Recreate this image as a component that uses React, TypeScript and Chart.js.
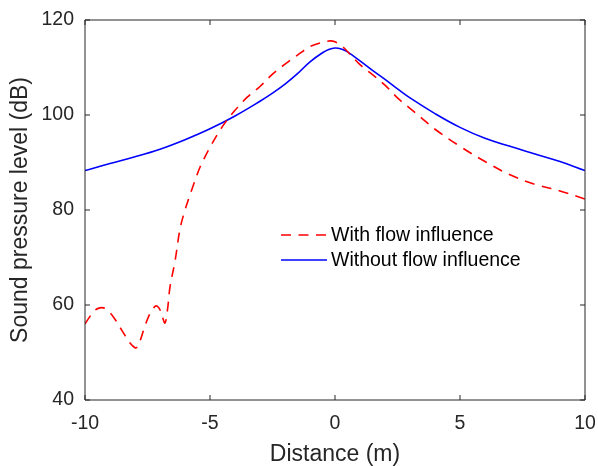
import React, { useEffect, useRef } from "react";
import { Chart, registerables } from "chart.js";

Chart.register(...registerables);

// Distance (m) and sound pressure level (dB)
const distanceWith: number[] = [
  -10, -9.8, -9.6, -9.4, -9.2, -9.0, -8.8, -8.6, -8.4, -8.2, -8.0, -7.9, -7.8, -7.6, -7.4, -7.2, -7.1, -7.0,
  -6.9, -6.8, -6.7, -6.6, -6.4, -6.2, -6.0, -5.8, -5.6, -5.4, -5.0, -4.5, -4.0, -3.5, -3.0, -2.5, -2.0, -1.5,
  -1.0, -0.5, -0.2, 0, 0.3, 0.6, 1.0, 1.5, 2.0, 2.5, 3.0, 3.5, 4, 5, 6, 7, 8, 9, 10,
];
const splWith: number[] = [
  56.0, 57.6, 58.9, 59.4, 59.3, 58.4, 57.0, 55.3, 53.6, 52.0, 51.0, 51.2, 52.4, 55.6, 58.2, 59.7, 59.7, 59.0,
  57.4, 56.2, 59.0, 63.8, 69.2, 76.0, 80.0, 83.2, 86.2, 89.0, 93.2, 97.6, 101.0, 103.8, 106.0, 108.6, 110.7, 112.6,
  114.4, 115.3, 115.6, 115.4, 114.4, 112.8, 110.6, 108.5, 106.3, 103.6, 101.4, 99.2, 97.0, 93.4, 90.2, 87.4, 85.4, 84.0, 82.3,
];

const distanceWithout: number[] = [
  -10, -9, -8, -7, -6, -5, -4, -3, -2.5, -2, -1.5, -1, -0.5, -0.25, 0, 0.25, 0.5, 1, 1.5, 2, 2.5, 3, 4, 5, 6, 7, 8, 9, 10,
];
const splWithout: number[] = [
  88.3, 89.8, 91.2, 92.8, 94.8, 97.1, 99.8, 102.9, 104.6, 106.5, 108.7, 111.2, 113.1, 113.8, 114.1, 113.9, 113.3,
  111.4, 109.4, 107.5, 105.5, 103.6, 100.3, 97.4, 95.1, 93.4, 91.8, 90.2, 88.3,
];

const seriesLabels: string[] = ["With flow influence", "Without flow influence"];
const xTicks: number[] = [-10, -5, 0, 5, 10];
const yTicks: number[] = [40, 60, 80, 100, 120];

const FONT = "'Liberation Sans', Arial, Helvetica, sans-serif";
const AXIS_COLOR = "#262626";
const DASH = [10, 7.5];

const frameAndLegend = {
  id: "frameAndLegend",
  afterDatasetsDraw(chart: any) {
    const { ctx, chartArea } = chart;
    const { left, right, top, bottom } = chartArea;
    const xs = chart.scales.x;
    const ys = chart.scales.y;
    ctx.save();
    ctx.strokeStyle = AXIS_COLOR;
    ctx.lineWidth = 1;
    ctx.setLineDash([]);
    ctx.beginPath();
    ctx.rect(left, top, right - left, bottom - top);
    ctx.stroke();
    const tl = 5;
    ctx.beginPath();
    xs.ticks.forEach((t: any) => {
      const px = xs.getPixelForValue(t.value);
      ctx.moveTo(px, bottom);
      ctx.lineTo(px, bottom - tl);
      ctx.moveTo(px, top);
      ctx.lineTo(px, top + tl);
    });
    ys.ticks.forEach((t: any) => {
      const py = ys.getPixelForValue(t.value);
      ctx.moveTo(left, py);
      ctx.lineTo(left + tl, py);
      ctx.moveTo(right, py);
      ctx.lineTo(right - tl, py);
    });
    ctx.stroke();

    // legend (inside axes, no box)
    const lx0 = 281;
    const lx1 = 327;
    const tx = 331;
    const rows = [235, 260];
    chart.data.datasets.forEach((ds: any, i: number) => {
      const y = rows[i];
      ctx.beginPath();
      ctx.strokeStyle = ds.borderColor;
      ctx.lineWidth = ds.borderWidth;
      ctx.setLineDash(ds.borderDash || []);
      ctx.moveTo(lx0, y);
      ctx.lineTo(lx1, y);
      ctx.stroke();
      ctx.setLineDash([]);
      ctx.fillStyle = "#000000";
      ctx.font = `19.5px ${FONT}`;
      ctx.textAlign = "left";
      ctx.textBaseline = "middle";
      ctx.fillText(ds.label, tx, y + 1);
    });
    ctx.restore();
  },
};

export default function App() {
  const canvasRef = useRef<HTMLCanvasElement | null>(null);

  useEffect(() => {
    document.body.style.margin = "0";
    const canvas = canvasRef.current;
    if (!canvas) return;
    const chart = new Chart(canvas, {
      type: "line",
      data: {
        datasets: [
          {
            label: seriesLabels[0],
            data: distanceWith.map((x, i) => ({ x, y: splWith[i] })),
            borderColor: "#ff0000",
            borderWidth: 1.6,
            borderDash: DASH,
            pointRadius: 0,
            fill: false,
            tension: 0.35,
          },
          {
            label: seriesLabels[1],
            data: distanceWithout.map((x, i) => ({ x, y: splWithout[i] })),
            borderColor: "#0000ff",
            borderWidth: 1.6,
            pointRadius: 0,
            fill: false,
            tension: 0.4,
          },
        ],
      },
      options: {
        animation: false,
        responsive: false,
        devicePixelRatio: 1,
        layout: { padding: { left: 0, top: 20, right: 13, bottom: 0 } },
        plugins: {
          legend: { display: false },
          tooltip: { enabled: false },
        },
        scales: {
          x: {
            type: "linear",
            min: -10,
            max: 10,
            afterBuildTicks: (scale: any) => {
              scale.ticks = xTicks.map((v) => ({ value: v }));
            },
            afterFit: (scale: any) => {
              scale.height = 66;
              scale.paddingLeft = 0;
              scale.paddingRight = 0;
            },
            grid: { display: false, drawTicks: false },
            border: { display: false },
            ticks: {
              color: AXIS_COLOR,
              font: { family: FONT, size: 19.5 },
              padding: 12,
              maxRotation: 0,
              autoSkip: false,
            },
            title: {
              display: true,
              text: "Distance (m)",
              color: AXIS_COLOR,
              font: { family: FONT, size: 23, lineHeight: 1 },
              padding: { top: 0, bottom: 0 },
            },
          },
          y: {
            type: "linear",
            min: 40,
            max: 120,
            afterBuildTicks: (scale: any) => {
              scale.ticks = yTicks.map((v) => ({ value: v }));
            },
            afterFit: (scale: any) => {
              scale.width = 85;
              scale.paddingTop = 0;
              scale.paddingBottom = 0;
            },
            grid: { display: false, drawTicks: false },
            border: { display: false },
            ticks: {
              color: AXIS_COLOR,
              font: { family: FONT, size: 19.5 },
              padding: 11,
              autoSkip: false,
            },
            title: {
              display: true,
              text: "Sound pressure level (dB)",
              color: AXIS_COLOR,
              font: { family: FONT, size: 23, lineHeight: 1 },
              padding: { top: 9.5, bottom: 0 },
            },
          },
        },
      },
      plugins: [frameAndLegend],
    });
    return () => chart.destroy();
  }, []);

  return (
    <div style={{ position: "absolute", left: 0, top: 0, width: 598, height: 466 }}>
      <canvas ref={canvasRef} width={598} height={466} style={{ width: 598, height: 466 }} />
    </div>
  );
}
